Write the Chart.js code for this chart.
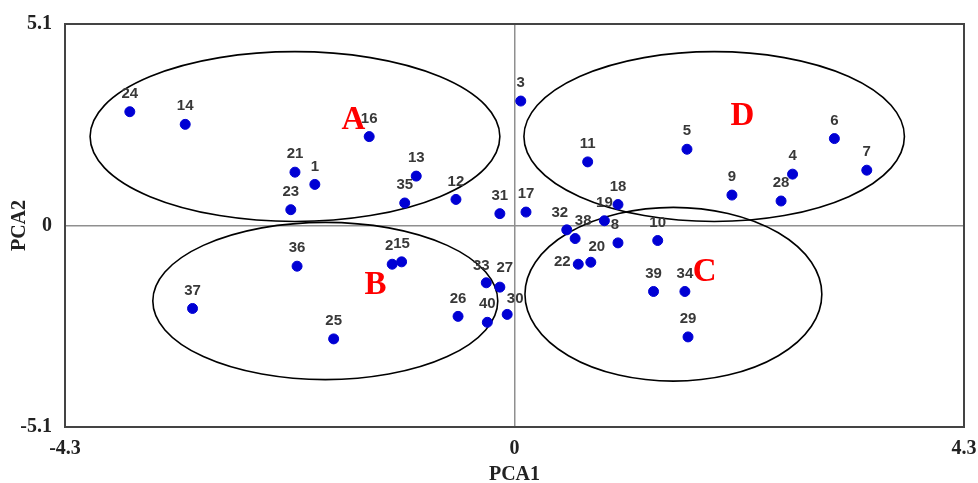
<!DOCTYPE html>
<html>
<head>
<meta charset="utf-8">
<script src="https://cdn.jsdelivr.net/npm/chart.js@4.4.1/dist/chart.umd.min.js"></script>
<style>
  html, body { margin: 0; padding: 0; background: #fff; }
  #wrap { width: 978px; height: 483px; position: relative; }
</style>
</head>
<body>
<div id="wrap"><canvas id="pcaChart"></canvas></div>
<script>
// sample numbers and their PCA scores
const sampleIds = [1, 2, 3, 4, 5, 6, 7, 8, 9, 10,
                   11, 12, 13, 14, 15, 16, 17, 18, 19, 20,
                   21, 22, 23, 24, 25, 26, 27, 28, 29, 30,
                   31, 32, 33, 34, 35, 36, 37, 38, 39, 40];
const pca1 = [-1.91, -1.17, 0.06, 2.66, 1.65, 3.06, 3.37, 0.99, 2.08, 1.37,
              0.70, -0.56, -0.94, -3.15, -1.08, -1.39, 0.11, 0.99, 0.86, 0.73,
              -2.10, 0.61, -2.14, -3.68, -1.73, -0.54, -0.14, 2.55, 1.66, -0.07,
              -0.14, 0.50, -0.27, 1.63, -1.05, -2.08, -3.08, 0.58, 1.33, -0.26];
const pca2 = [1.04, -0.98, 3.15, 1.30, 1.93, 2.20, 1.40, -0.44, 0.77, -0.38,
              1.61, 0.66, 1.25, 2.56, -0.92, 2.25, 0.34, 0.53, 0.12, -0.93,
              1.35, -0.98, 0.40, 2.88, -2.87, -2.30, -1.56, 0.62, -2.82, -2.25,
              0.30, -0.11, -1.45, -1.67, 0.57, -1.03, -2.10, -0.33, -1.67, -2.45];

// axis ticks
const xTicks = [-4.3, 0, 4.3];
const yTicks = [-5.1, 0, 5.1];

// groups: name, centre and half axes in PCA units
const groupNames = ['A', 'B', 'C', 'D'];
const groupCx = [-2.10, -1.81, 1.52, 1.91];
const groupCy = [2.25, -1.91, -1.74, 2.25];
const groupRx = [1.96, 1.65, 1.42, 1.82];
const groupRy = [2.15, 1.99, 2.20, 2.15];
const groupLabelX = [-1.54, -1.33, 1.82, 2.18];
const groupLabelY = [2.70, -1.46, -1.13, 2.80];

// small nudges for crowded labels (pixels)
const labelNudge = {
    2: [-3, 0], 8: [-3, 0], 20: [6, 3], 22: [-16, 16], 27: [5, -1],
    30: [8, 2], 32: [-7, 1], 33: [-5, 1], 38: [8, 0]
};

const points = sampleIds.map((id, i) => ({ x: pca1[i], y: pca2[i] }));

const frameAndGroups = {
    id: 'frameAndGroups',
    beforeDatasetsDraw(chart) {
        const { ctx, scales: { x, y } } = chart;
        ctx.save();
        ctx.strokeStyle = '#000';
        ctx.lineWidth = 1.6;
        groupNames.forEach((name, i) => {
            const cx = x.getPixelForValue(groupCx[i]);
            const cy = y.getPixelForValue(groupCy[i]);
            const rx = x.getPixelForValue(groupCx[i] + groupRx[i]) - cx;
            const ry = cy - y.getPixelForValue(groupCy[i] + groupRy[i]);
            ctx.beginPath();
            ctx.ellipse(cx, cy, rx, ry, 0, 0, Math.PI * 2);
            ctx.stroke();
        });
        ctx.restore();
    },
    afterDatasetsDraw(chart) {
        const { ctx, chartArea: a, scales: { x, y } } = chart;
        ctx.save();
        // point numbers
        ctx.fillStyle = '#383838';
        ctx.font = 'bold 15px "Liberation Sans", Arial, sans-serif';
        ctx.textAlign = 'center';
        ctx.textBaseline = 'middle';
        const meta = chart.getDatasetMeta(0);
        meta.data.forEach((pt, i) => {
            const nudge = labelNudge[sampleIds[i]] || [0, 0];
            ctx.fillText(String(sampleIds[i]), pt.x + nudge[0], pt.y - 18 + nudge[1]);
        });
        // group letters
        ctx.fillStyle = '#ff0000';
        ctx.font = 'bold 33px "Liberation Serif", "Times New Roman", serif';
        groupNames.forEach((name, i) => {
            ctx.fillText(name, x.getPixelForValue(groupLabelX[i]), y.getPixelForValue(groupLabelY[i]) + 2);
        });
        // frame
        ctx.strokeStyle = '#444';
        ctx.lineWidth = 2;
        ctx.strokeRect(a.left, a.top, a.right - a.left, a.bottom - a.top);
        ctx.restore();
    }
};

const tickFont = { family: '"Liberation Serif", "Times New Roman", serif', size: 20, weight: 'bold' };
const zeroLine = ctx => ctx.tick && ctx.tick.value === 0 ? '#8f8f8f' : 'rgba(0,0,0,0)';

new Chart(document.getElementById('pcaChart'), {
    type: 'scatter',
    data: {
        datasets: [{
            label: 'samples',
            data: points,
            backgroundColor: '#0000d4',
            borderColor: '#0000d4',
            pointRadius: 5,
            pointHoverRadius: 5
        }]
    },
    options: {
        responsive: true,
        maintainAspectRatio: false,
        animation: false,
        devicePixelRatio: 1,
        layout: { padding: { top: 24, right: 14, left: 0, bottom: 0 } },
        plugins: {
            legend: { display: false },
            tooltip: { enabled: false }
        },
        scales: {
            x: {
                type: 'linear',
                min: xTicks[0],
                max: xTicks[xTicks.length - 1],
                afterBuildTicks: scale => { scale.ticks = xTicks.map(v => ({ value: v })); },
                afterFit: scale => {
                    scale.height = 56;
                    scale.paddingLeft = 0;
                    scale.paddingRight = 0;
                },
                grid: { color: zeroLine, lineWidth: 1.5, drawTicks: false },
                border: { display: false },
                ticks: {
                    padding: 10,
                    color: '#222',
                    font: tickFont,
                    maxRotation: 0,
                    autoSkip: false,
                    callback: v => String(v)
                },
                title: {
                    display: true,
                    text: 'PCA1',
                    color: '#222',
                    font: { family: tickFont.family, size: 20, weight: 'bold', lineHeight: 1 },
                    padding: { top: 0, bottom: -2 }
                }
            },
            y: {
                type: 'linear',
                min: yTicks[0],
                max: yTicks[yTicks.length - 1],
                afterBuildTicks: scale => { scale.ticks = yTicks.map(v => ({ value: v })); },
                afterFit: scale => {
                    scale.width = 65;
                    scale.paddingTop = 0;
                    scale.paddingBottom = 0;
                },
                grid: { color: zeroLine, lineWidth: 1.5, drawTicks: false },
                border: { display: false },
                ticks: {
                    padding: 13,
                    color: '#222',
                    font: tickFont,
                    autoSkip: false,
                    callback: v => String(v)
                },
                title: {
                    display: true,
                    text: 'PCA2',
                    color: '#222',
                    font: { family: tickFont.family, size: 20, weight: 'bold', lineHeight: 1 },
                    padding: { top: 10, bottom: 0 }
                }
            }
        }
    },
    plugins: [frameAndGroups]
});
</script>
</body>
</html>
